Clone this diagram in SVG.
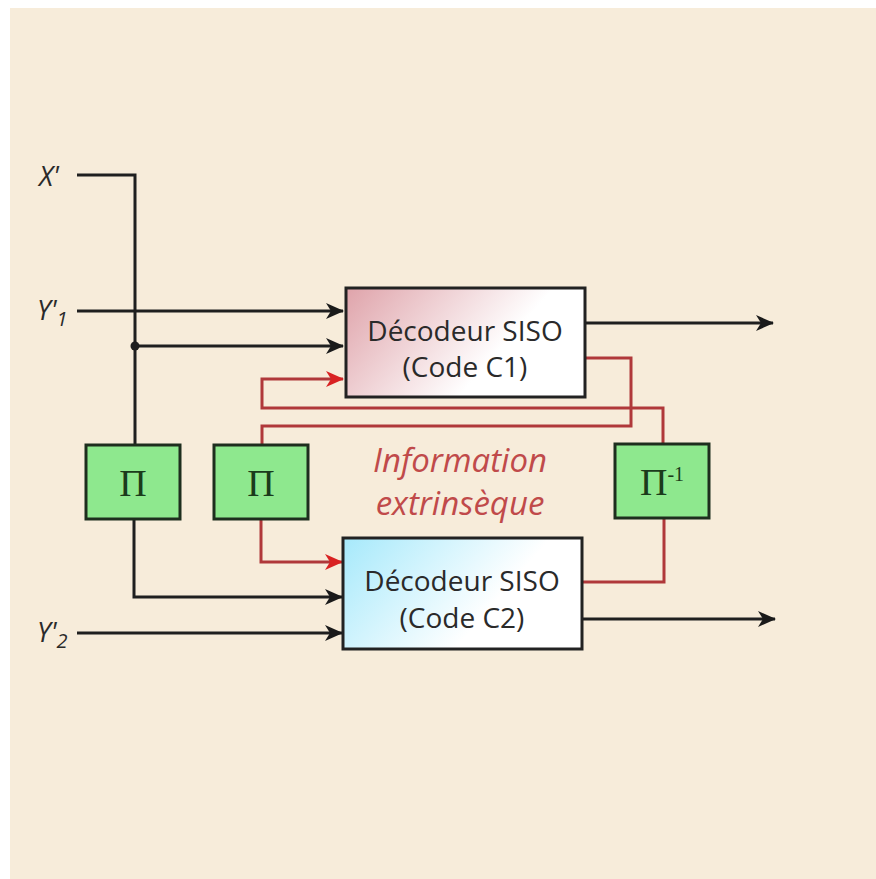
<svg xmlns="http://www.w3.org/2000/svg" width="876" height="879" viewBox="0 0 876 879">
<defs>
<linearGradient id="g1" x1="0" y1="0" x2="1" y2="0.4">
<stop offset="0" stop-color="#dfa3aa"/>
<stop offset="0.75" stop-color="#ffffff"/>
</linearGradient>
<linearGradient id="g2" x1="0" y1="0" x2="1" y2="0.4">
<stop offset="0" stop-color="#a6e9fb"/>
<stop offset="0.75" stop-color="#ffffff"/>
</linearGradient>
<marker id="ab" markerUnits="userSpaceOnUse" markerWidth="18" markerHeight="16" refX="17" refY="8" orient="auto">
<path d="M0,0 L18,8 L0,16 L5,8 Z" fill="#1a1a1a"/>
</marker>
<marker id="ar" markerUnits="userSpaceOnUse" markerWidth="18" markerHeight="16" refX="17" refY="8" orient="auto">
<path d="M0,0 L18,8 L0,16 L5,8 Z" fill="#d92222"/>
</marker>
<style>
.bl{fill:none;stroke:#1f1f1f;stroke-width:3}
.rd{fill:none;stroke:#b0383a;stroke-width:3}
.box{stroke:#222;stroke-width:3}
.pi{fill:#8ee88e;stroke:#1e2e1e;stroke-width:3}
.pt{font-family:"Liberation Serif","DejaVu Serif",serif;font-size:38px;fill:#1b3b1b;text-anchor:middle}
.bt{font-family:"Open Sans","Liberation Sans",sans-serif;font-size:28px;fill:#2a2a2a;text-anchor:middle}
.lb{font-family:"Open Sans","Liberation Sans",sans-serif;font-style:italic;font-size:27px;fill:#2a2a2a}
.inf{font-family:"Open Sans","Liberation Sans",sans-serif;font-style:italic;font-size:33px;fill:#c04a4a;text-anchor:middle}
</style>
</defs>
<rect x="0" y="0" width="876" height="879" fill="#ffffff"/>
<rect x="10" y="8" width="866" height="871" fill="#f7ecda"/>

<g id="connectors">
<path class="bl" d="M77,175 H135 V445"/>
<path class="bl" d="M77,311 H343" marker-end="url(#ab)"/>
<path class="bl" d="M135,346 H343" marker-end="url(#ab)"/>
<circle cx="135" cy="346" r="4.5" fill="#1f1f1f"/>
<path class="bl" d="M134,520 V597 H342" marker-end="url(#ab)"/>
<path class="bl" d="M77,633 H342" marker-end="url(#ab)"/>
<path class="bl" d="M585,323 H773" marker-end="url(#ab)"/>
<path class="bl" d="M582,619 H775" marker-end="url(#ab)"/>
<path class="rd" d="M585,358 H631 V426 H262 V445"/>
<path class="rd" d="M663,444 V408 H262 V379 H343" marker-end="url(#ar)"/>
<path class="rd" d="M261,520 V562 H342" marker-end="url(#ar)"/>
<path class="rd" d="M582,582 H664 V518"/>
</g>

<g id="dec1">
<rect class="box" x="346" y="288" width="239" height="109" fill="url(#g1)"/>
<text class="bt" x="465" y="341">Décodeur SISO</text>
<text class="bt" x="465" y="377">(Code C1)</text>
</g>
<g id="dec2">
<rect class="box" x="343" y="538" width="239" height="111" fill="url(#g2)"/>
<text class="bt" x="462" y="591">Décodeur SISO</text>
<text class="bt" x="462" y="628">(Code C2)</text>
</g>
<g id="pi1">
<rect class="pi" x="86" y="445" width="94" height="74"/>
<text class="pt" x="133" y="496">Π</text>
</g>
<g id="pi2">
<rect class="pi" x="214" y="445" width="94" height="74"/>
<text class="pt" x="261" y="496">Π</text>
</g>
<g id="piinv">
<rect class="pi" x="615" y="444" width="94" height="74"/>
<text class="pt" x="662" y="495">Π<tspan font-size="20" dy="-14">-1</tspan></text>
</g>
<g id="labels">
<text class="lb" x="39" y="186">X'</text>
<text class="lb" x="37" y="320">Y'<tspan font-size="20" dy="6">1</tspan></text>
<text class="lb" x="37" y="642">Y'<tspan font-size="20" dy="6">2</tspan></text>
<text class="inf" x="460" y="472">Information</text>
<text class="inf" x="460" y="515">extrinsèque</text>
</g>
</svg>
